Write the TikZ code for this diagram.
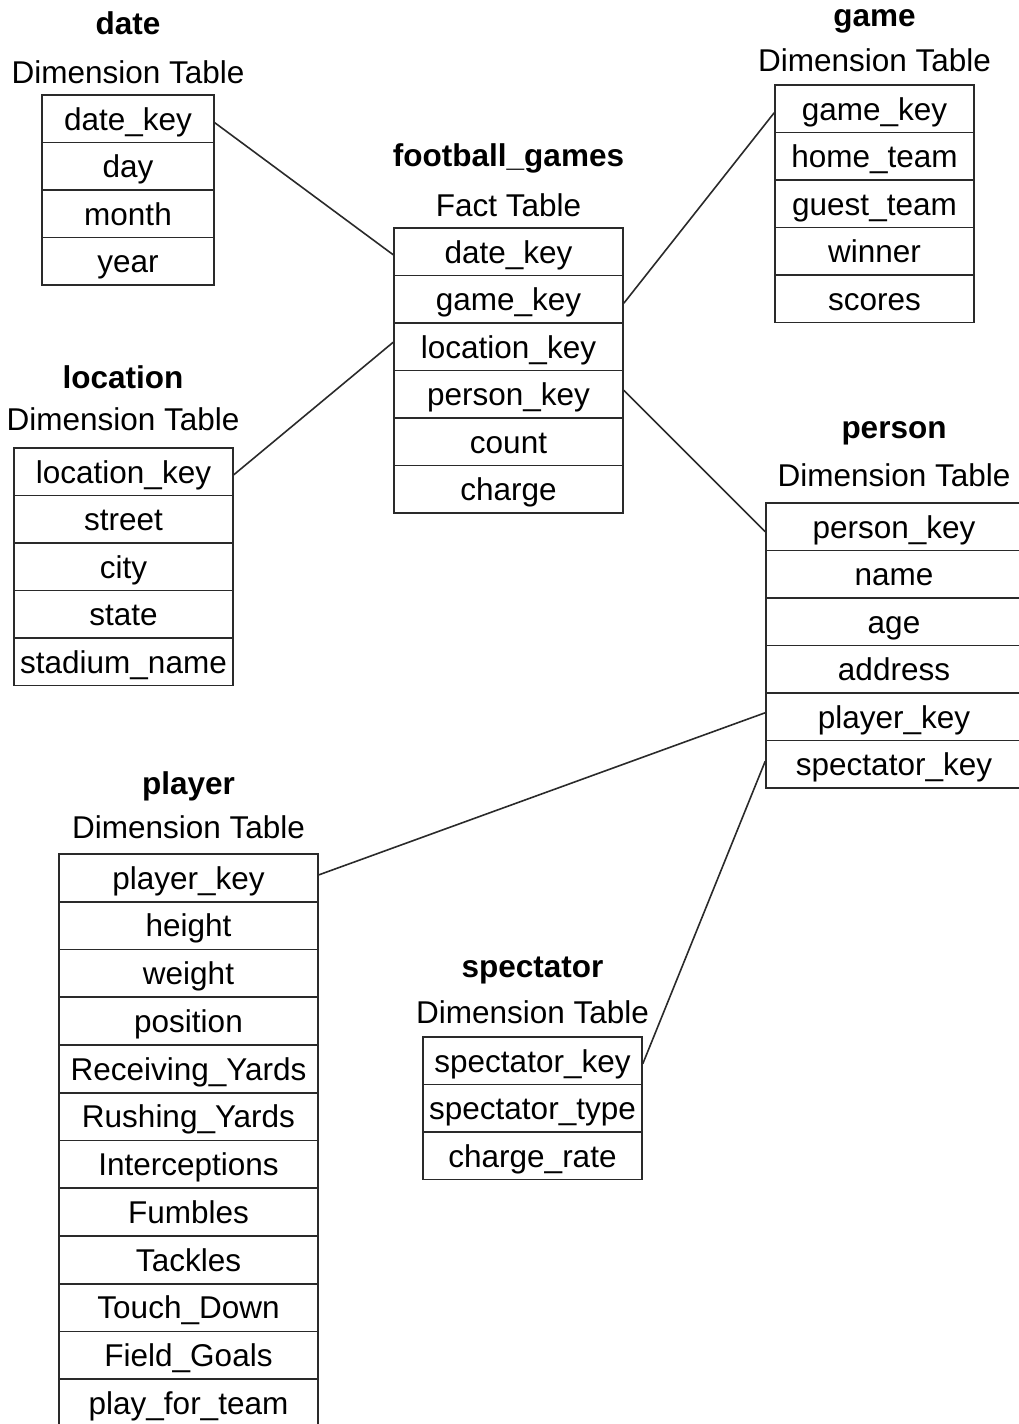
\documentclass[tikz,border=0pt]{standalone}
\usepackage{fontspec}
\setmainfont{Liberation Sans}
\definecolor{framecol}{HTML}{2A2A2A}
\begin{document}
\begin{tikzpicture}[x=1pt,y=-1pt,
  every node/.style={font=\fontsize{31.5}{36}\selectfont, text=black},
  cell/.style={draw=framecol, line width=1.6pt, minimum height=47.5pt,
    inner sep=0pt, text height=22.5pt, text depth=0pt},
  tabletitle/.style={anchor=base, font=\fontsize{31.5}{36}\selectfont\bfseries},
  tablekind/.style={anchor=base},
  link/.style={draw=framecol, line width=1.6pt}]
\useasboundingbox (0,0) rectangle (1019,1424);
\clip (0,0) rectangle (1019,1424);

% date dimension
\node[tabletitle] (dateT) at (128,34) {date};
\node[tablekind] (dateK) at (128,83) {Dimension Table};
\foreach \t [count=\i] in {date\_key,day,month,year}
  \node[cell, minimum width=172pt] (date\i) at (128,71.25+47.5*\i) {\t};

% fact table
\node[tabletitle] (factT) at (508.5,166) {football\_games};
\node[tablekind] (factK) at (508.5,216) {Fact Table};
\foreach \t [count=\i] in {date\_key,game\_key,location\_key,person\_key,count,charge}
  \node[cell, minimum width=229pt] (fact\i) at (508.5,204.25+47.5*\i) {\t};

% game dimension
\node[tabletitle] (gameT) at (874.5,27) {game};
\node[tablekind] (gameK) at (874.5,71) {Dimension Table};
\foreach \t [count=\i] in {game\_key,home\_team,guest\_team,winner,scores}
  \node[cell, minimum width=199pt] (game\i) at (874.5,61.25+47.5*\i) {\t};

% location dimension
\node[tabletitle] (locT) at (123,388) {location};
\node[tablekind] (locK) at (123,430) {Dimension Table};
\foreach \t [count=\i] in {location\_key,street,city,state,stadium\_name}
  \node[cell, minimum width=219pt] (loc\i) at (123.5,424.25+47.5*\i) {\t};

% person dimension
\node[tabletitle] (personT) at (894,438) {person};
\node[tablekind] (personK) at (894,486) {Dimension Table};
\foreach \t [count=\i] in {person\_key,name,age,address,player\_key,spectator\_key}
  \node[cell, minimum width=256pt] (person\i) at (894,479.25+47.5*\i) {\t};

% player dimension
\node[tabletitle] (playerT) at (188.5,794) {player};
\node[tablekind] (playerK) at (188.5,838) {Dimension Table};
\foreach \t [count=\i] in {player\_key,height,weight,position,Receiving\_Yards,
    Rushing\_Yards,Interceptions,Fumbles,Tackles,Touch\_Down,Field\_Goals,play\_for\_team}
  \node[cell, minimum width=259pt, minimum height=47.75pt] (player\i) at (188.5,830.125+47.75*\i) {\t};

% spectator dimension
\node[tabletitle] (specT) at (532.5,977) {spectator};
\node[tablekind] (specK) at (532.5,1023) {Dimension Table};
\foreach \t [count=\i] in {spectator\_key,spectator\_type,charge\_rate}
  \node[cell, minimum width=219pt] (spec\i) at (532.5,1013.25+47.5*\i) {\t};

% key links
\draw[link] ([yshift=-4pt]date1.east) -- ([yshift=-3pt]fact1.west);
\draw[link] ([yshift=-4pt]fact2.east) -- ([yshift=-4pt]game1.west);
\draw[link] ([yshift=-3pt]loc1.east) -- ([yshift=4.5pt]fact3.west);
\draw[link] ([yshift=4pt]fact4.east) -- ([yshift=-5pt]person1.west);
\draw[link] ([yshift=3pt]player1.east) -- ([yshift=4pt]person5.west);
\draw[link] ([yshift=-3pt]spec1.east) -- ([yshift=3pt]person6.west);
\end{tikzpicture}
\end{document}
